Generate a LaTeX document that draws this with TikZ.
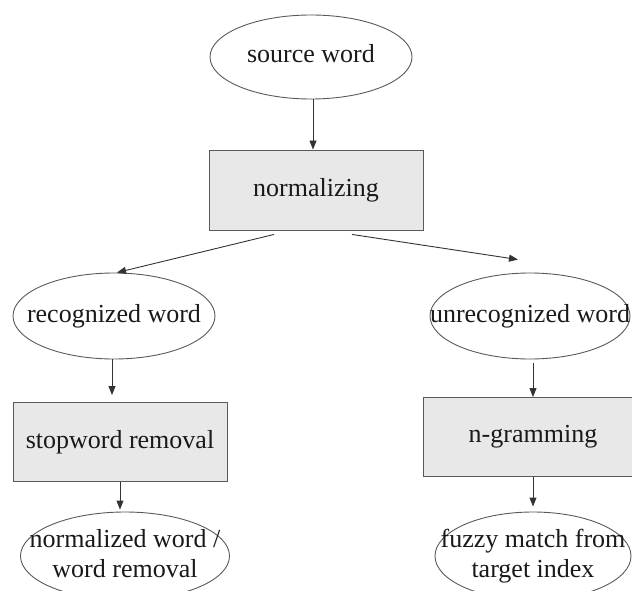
\documentclass[tikz,border=0pt]{standalone}
\usepackage{fontspec}
\setmainfont{Liberation Serif}
\usetikzlibrary{arrows.meta,shapes.geometric}
\newcommand{\wordtext}[1]{\makebox[0pt]{\begin{tabular}{@{}c@{}}#1\end{tabular}}}
\tikzset{
  wordnode/.style={ellipse, draw=black!65, line width=0.9pt, inner sep=0pt, text=black!90},
  procbox/.style={rectangle, draw=black!65, fill=black!9, line width=0.9pt, inner sep=0pt, text=black!90},
  arr/.style={-{Triangle[length=9pt,width=7pt]}, line width=0.9pt, draw=black!80}
}
\begin{document}
\begin{tikzpicture}[x=1pt, y=-1pt]
\useasboundingbox (0,0) rectangle (632,591);
\fontsize{26}{30}\selectfont
\node (src) at (311, 57) [wordnode, minimum width=202pt, minimum height=84pt] {\wordtext{source word}};
\node (norm) at (316, 190) [procbox, minimum width=214pt, minimum height=80pt] {normalizing};
\node (rec) at (114, 316) [wordnode, minimum width=202pt, minimum height=86pt] {\wordtext{recognized word}};
\node (unrec) at (530, 316) [wordnode, minimum width=200pt, minimum height=86pt] {\wordtext{unrecognized word}};
\node (stop) at (120, 442) [procbox, minimum width=214pt, minimum height=79pt] {stopword removal};
\node (ngram) at (533, 437) [procbox, minimum width=220pt, minimum height=79pt] {n-gramming};
\node (normw) at (125, 556) [wordnode, minimum width=209pt, minimum height=88pt] {\wordtext{normalized word /\\word removal}};
\node (fuzzy) at (533, 556) [wordnode, minimum width=196pt, minimum height=88pt] {\wordtext{fuzzy match from\\target index}};
\draw[arr] ([xshift=2pt]src.south) -- ([xshift=-3pt]norm.north);
\draw[arr] ([xshift=-42pt, yshift=-4pt]norm.south) -- ([xshift=3pt]rec.north);
\draw[arr] ([xshift=36pt, yshift=-4pt]norm.south) -- ([xshift=-12pt, yshift=13pt]unrec.north);
\draw[arr, shorten >=7pt] ([xshift=-2pt]rec.south) -- ([xshift=-2pt]rec.south |- stop.north);
\draw[arr, shorten >=2pt] (stop.south) -- (stop.south |- normw.north);
\draw[arr] ([yshift=-4pt]unrec.south -| ngram.north) -- (ngram.north);
\draw[arr, shorten >=5pt] (ngram.south) -- (fuzzy.north);
\end{tikzpicture}
\end{document}
